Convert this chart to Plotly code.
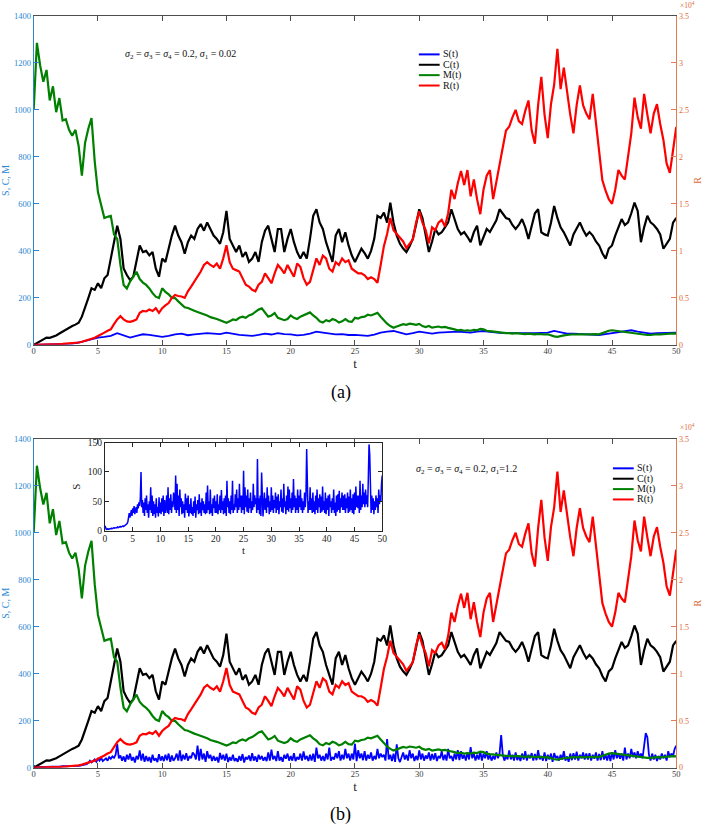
import plotly.graph_objects as go

# ---------------- data ----------------
# C, M, R sampled every 0.25 time units (t = 0 ... 50)
C_vals = [
    0, 8, 17, 25, 31, 30, 34, 40, 48, 56, 66, 74, 80, 86, 94, 120, 157, 199, 241, 234,
    262, 241, 283, 297, 367, 437, 507, 451, 325, 297, 276, 290, 353, 423, 395, 400, 381, 395, 325, 290,
    367, 353, 409, 465, 507, 465, 437, 388, 437, 465, 451, 493, 514, 486, 521, 493, 465, 451, 430, 479,
    570, 451, 423, 395, 423, 374, 395, 353, 367, 395, 353, 437, 486, 507, 451, 395, 493, 493, 395, 451,
    493, 437, 395, 367, 395, 367, 451, 549, 577, 521, 493, 437, 395, 353, 465, 493, 437, 479, 423, 381,
    353, 380, 409, 390, 367, 400, 451, 549, 540, 563, 520, 605, 520, 465, 430, 410, 395, 420, 451, 510,
    577, 540, 470, 395, 440, 493, 470, 479, 500, 521, 577, 530, 493, 470, 480, 460, 437, 480, 507, 423,
    460, 493, 480, 507, 530, 577, 560, 540, 535, 510, 493, 510, 535, 500, 451, 500, 560, 577, 479, 470,
    465, 520, 591, 540, 500, 479, 450, 423, 470, 493, 521, 490, 465, 480, 465, 440, 423, 390, 367, 410,
    423, 465, 500, 535, 510, 521, 560, 605, 570, 437, 500, 549, 521, 510, 493, 470, 409, 430, 451, 520,
    540]

M_vals = [
    1000, 1285, 1190, 1120, 1170, 1040, 1100, 990, 1050, 955, 960, 915, 890, 915, 845, 720, 860, 920, 965, 780,
    650, 590, 540, 545, 549, 470, 451, 340, 255, 240, 269, 290, 311, 280, 265, 255, 240, 220, 205, 199,
    241, 225, 215, 200, 199, 185, 171, 160, 157, 150, 145, 140, 136, 130, 125, 118, 115, 110, 105, 101,
    94, 100, 108, 105, 115, 120, 115, 125, 130, 140, 150, 155, 135, 120, 125, 135, 115, 110, 105, 110,
    125, 115, 110, 120, 125, 130, 138, 125, 115, 100, 95, 105, 100, 110, 105, 95, 100, 110, 100, 98,
    115, 112, 118, 120, 128, 125, 130, 136, 120, 105, 90, 80, 73, 78, 83, 88, 85, 90, 88, 85,
    89, 80, 76, 80, 73, 76, 78, 74, 76, 72, 70, 66, 62, 64, 60, 62, 60, 64, 62, 68,
    66, 60, 58, 56, 55, 54, 52, 50, 50, 48, 50, 48, 48, 46, 48, 46, 45, 47, 45, 44,
    45, 40, 36, 34, 38, 40, 42, 44, 45, 44, 46, 44, 45, 46, 44, 46, 45, 50, 56, 60,
    62, 60, 58, 56, 56, 54, 52, 50, 48, 45, 44, 42, 42, 44, 45, 44, 46, 48, 47, 49,
    48]

# R in units of 10^4
R_vals = [
    0, 0, 0.001, 0.002, 0.003, 0.004, 0.005, 0.006, 0.008, 0.010, 0.012, 0.014, 0.016, 0.02, 0.025, 0.033, 0.042, 0.05, 0.06, 0.075,
    0.095, 0.11, 0.13, 0.15, 0.165, 0.22, 0.27, 0.305, 0.27, 0.25, 0.245, 0.255, 0.27, 0.34, 0.36, 0.355, 0.375, 0.36, 0.39, 0.34,
    0.39, 0.42, 0.445, 0.5, 0.53, 0.52, 0.515, 0.5, 0.57, 0.62, 0.67, 0.725, 0.78, 0.85, 0.88, 0.85, 0.83, 0.865, 0.81, 0.92,
    1.06, 0.88, 0.81, 0.795, 0.78, 0.71, 0.64, 0.62, 0.585, 0.57, 0.64, 0.67, 0.76, 0.71, 0.655, 0.76, 0.85, 0.81, 0.76, 0.85,
    0.78, 0.725, 0.865, 0.83, 0.71, 0.64, 0.67, 0.81, 0.92, 0.85, 0.95, 0.92, 0.81, 0.78, 0.88, 0.85, 0.92, 0.88, 0.90, 0.81,
    0.78, 0.76, 0.76, 0.74, 0.70, 0.72, 0.70, 0.66, 0.85, 1.05, 1.18, 1.35, 1.22, 1.18, 1.15, 1.10, 1.03, 1.08, 1.12, 1.30,
    1.42, 1.30, 1.22, 1.08, 1.25, 1.22, 1.30, 1.33, 1.26, 1.40, 1.65, 1.55, 1.72, 1.85, 1.70, 1.86, 1.58, 1.76, 1.55, 1.39,
    1.65, 1.80, 1.86, 1.55, 1.72, 1.90, 2.10, 2.28, 2.32, 2.42, 2.50, 2.38, 2.35, 2.49, 2.60, 2.28, 2.14, 2.55, 2.85, 2.45,
    2.20, 2.56, 2.77, 3.15, 2.72, 2.95, 2.68, 2.45, 2.25, 2.55, 2.76, 2.55, 2.46, 2.40, 2.67, 2.35, 2.07, 1.75, 1.64, 1.55,
    1.50, 1.65, 1.86, 1.80, 1.76, 2.00, 2.25, 2.63, 2.42, 2.30, 2.67, 2.45, 2.25, 2.46, 2.56, 2.35, 2.18, 1.93, 1.83, 2.07,
    2.32]

# S for panel (a), sampled every 0.5 time units
S_a_vals = [
    0, 0.5, 1, 1.5, 2, 3, 5, 10, 17, 24,
    31, 34, 38, 50, 42, 31, 38, 45, 42, 38,
    34, 38, 45, 48, 41, 45, 48, 50, 48, 46,
    52, 46, 42, 40, 38, 42, 48, 44, 50, 46,
    45, 40, 42, 48, 56, 52, 48, 45, 46, 42,
    42, 40, 38, 44, 52, 56, 59, 52, 45, 50,
    56, 52, 48, 52, 54, 56, 56, 54, 52, 56,
    59, 55, 52, 50, 50, 49, 48, 50, 50, 52,
    52, 59, 52, 48, 48, 46, 45, 44, 42, 46,
    50, 54, 58, 62, 56, 52, 48, 50, 50, 51,
    52]

# S for panel (b), sampled every 0.125 time units
S_b_vals = [
    8, 3, 2, 2, 3, 2, 3, 3,
    3, 4, 3, 4, 4, 5, 4, 5,
    5, 5, 6, 5, 6, 6, 7, 6,
    7, 7, 8, 7, 8, 9, 10, 11,
    12, 15, 20, 30, 22, 28, 35, 25,
    38, 30, 42, 28, 35, 40, 30, 45,
    38, 48, 42, 55, 100, 40, 52, 30,
    48, 25, 55, 35, 60, 30, 45, 22,
    50, 35, 74, 30, 60, 25, 50, 28,
    45, 22, 55, 30, 40, 24, 57, 30,
    48, 28, 55, 32, 60, 25, 52, 30,
    40, 60, 30, 74, 28, 55, 35, 62,
    30, 50, 40, 65, 55, 35, 94, 30,
    80, 35, 60, 25, 70, 40, 55, 28,
    50, 30, 45, 22, 63, 35, 55, 30,
    60, 24, 45, 30, 55, 28, 40, 25,
    50, 30, 58, 22, 45, 35, 52, 28,
    62, 30, 48, 25, 55, 35, 50, 30,
    45, 28, 65, 30, 77, 35, 50, 28,
    70, 30, 45, 25, 55, 38, 60, 30,
    50, 30, 62, 28, 45, 35, 60, 30,
    69, 35, 50, 28, 55, 30, 60, 25,
    85, 40, 55, 30, 50, 28, 60, 35,
    85, 30, 45, 35, 62, 40, 70, 30,
    55, 35, 80, 40, 60, 30, 60, 35,
    102, 28, 74, 40, 60, 32, 70, 30,
    55, 38, 65, 30, 50, 35, 80, 40,
    60, 45, 55, 30, 122, 35, 55, 28,
    60, 25, 99, 40, 24, 45, 65, 35,
    55, 30, 74, 40, 60, 28, 50, 32,
    74, 35, 60, 30, 52, 38, 65, 30,
    58, 35, 62, 28, 50, 40, 70, 32,
    55, 30, 80, 40, 50, 28, 60, 35,
    75, 32, 70, 38, 55, 30, 65, 35,
    88, 40, 60, 30, 55, 35, 70, 30,
    60, 40, 70, 35, 55, 30, 50, 35,
    65, 40, 60, 139, 55, 30, 50, 35,
    74, 35, 55, 30, 65, 32, 50, 28,
    60, 35, 70, 30, 55, 40, 62, 30,
    58, 32, 75, 35, 50, 30, 65, 28,
    55, 35, 60, 25, 62, 40, 50, 30,
    55, 35, 70, 30, 48, 25, 60, 32,
    62, 35, 68, 30, 55, 40, 65, 35,
    60, 35, 62, 30, 55, 38, 65, 30,
    58, 32, 70, 35, 55, 30, 62, 28,
    65, 35, 75, 40, 60, 38, 60, 30,
    85, 35, 60, 40, 80, 45, 65, 40,
    70, 45, 60, 40, 90, 147, 130, 55,
    30, 60, 35, 55, 28, 50, 35, 60,
    40, 55, 30, 70, 45, 60, 50, 80,
    94]

t_q = [i * 0.25 for i in range(len(C_vals))]
t_h = [i * 0.5 for i in range(len(S_a_vals))]
t_e = [i * 0.125 for i in range(len(S_b_vals))]

x_ticks = list(range(0, 51, 5))
left_ticks = list(range(0, 1401, 200))
right_ticks = [0, 0.5, 1, 1.5, 2, 2.5, 3, 3.5]
inset_ticks = [0, 50, 100, 150]

series_names = ["S(t)", "C(t)", "M(t)", "R(t)"]
series_colors = ["#0000FF", "#000000", "#008000", "#FF0000"]

# ---------------- styling ----------------
W, H = 708, 829
FONT = "Liberation Serif"
BLUE_AX = "#2A86D1"
ORANGE_AX = "#E07B53"
ORANGE_TXT = "#DD6A3A"
GRAY_AX = "#4D4D4D"

def px_x(p):
    return p / W

def px_y(p):
    return 1 - p / H

xdom = [px_x(32), px_x(681)]
ydom_a = [px_y(344), px_y(11)]
ydom_b = [px_y(772), px_y(439)]
xdom_in = [px_x(104), px_x(384)]
ydom_in = [px_y(532), px_y(443)]

fig = go.Figure()

def add_panel(S_t, S_v, xa, ya, yr, swidth):
    fig.add_trace(go.Scatter(x=S_t, y=S_v, name="S(t)", mode="lines",
                             line=dict(color=series_colors[0], width=swidth),
                             xaxis=xa, yaxis=ya, showlegend=False))
    fig.add_trace(go.Scatter(x=t_q, y=C_vals, name="C(t)", mode="lines",
                             line=dict(color=series_colors[1], width=2.2),
                             xaxis=xa, yaxis=ya, showlegend=False))
    fig.add_trace(go.Scatter(x=t_q, y=M_vals, name="M(t)", mode="lines",
                             line=dict(color=series_colors[2], width=2.2),
                             xaxis=xa, yaxis=ya, showlegend=False))
    fig.add_trace(go.Scatter(x=t_q, y=R_vals, name="R(t)", mode="lines",
                             line=dict(color=series_colors[3], width=2.2),
                             xaxis=xa, yaxis=yr, showlegend=False))

add_panel(t_h, S_a_vals, "x", "y", "y2", 1.8)
add_panel(t_e, S_b_vals, "x2", "y3", "y4", 1.8)

# inset
fig.add_trace(go.Scatter(x=t_e, y=S_b_vals, name="S(t)", mode="lines",
                         line=dict(color="#0000FF", width=1.5),
                         xaxis="x3", yaxis="y5", showlegend=False))

def xaxis_style(dom, anchor):
    return dict(domain=dom, anchor=anchor, range=[0, 50], tickvals=x_ticks,
                ticks="inside", ticklen=5, tickcolor=GRAY_AX, showline=True,
                linecolor=GRAY_AX, linewidth=1, mirror="ticks", showgrid=False,
                zeroline=False, ticklabelstandoff=-2,
                tickfont=dict(family=FONT, size=8.5, color="#404040"),
                title=dict(text="t", font=dict(family=FONT, size=13, color="#262626"),
                           standoff=0))

def yleft_style(dom, anchor):
    return dict(domain=dom, anchor=anchor, range=[0, 1400], tickvals=left_ticks,
                ticks="inside", ticklen=5, tickcolor=BLUE_AX, showline=True,
                linecolor=BLUE_AX, linewidth=1.2, showgrid=False, zeroline=False,
                tickfont=dict(family=FONT, size=8.5, color=BLUE_AX),
                title=dict(text="S, C, M", font=dict(family=FONT, size=10, color=BLUE_AX),
                           standoff=6))

def yright_style(over, anchor):
    return dict(overlaying=over, anchor=anchor, side="right", range=[0, 3.5],
                tickvals=right_ticks, ticks="inside", ticklen=5, tickcolor=ORANGE_AX,
                showline=True, linecolor=ORANGE_AX, linewidth=1.2, showgrid=False,
                zeroline=False, tickfont=dict(family=FONT, size=8, color=ORANGE_TXT),
                title=dict(text="R", font=dict(family=FONT, size=10, color=ORANGE_TXT),
                           standoff=6))

layout = dict(
    width=W, height=H, margin=dict(l=0, r=0, t=0, b=0),
    paper_bgcolor="white", plot_bgcolor="white", showlegend=False,
    font=dict(family=FONT),
    xaxis=xaxis_style(xdom, "y"),
    yaxis=yleft_style(ydom_a, "x"),
    yaxis2=yright_style("y", "x"),
    xaxis2=xaxis_style(xdom, "y3"),
    yaxis3=yleft_style(ydom_b, "x2"),
    yaxis4=yright_style("y3", "x2"),
    xaxis3=dict(domain=xdom_in, anchor="y5", range=[0, 50], tickvals=x_ticks,
                ticks="inside", ticklen=4, tickcolor="#262626", showline=True,
                linecolor="#262626", linewidth=1, mirror="ticks", showgrid=False,
                zeroline=False, ticklabelstandoff=-1,
                tickfont=dict(family=FONT, size=9.5, color="#262626"),
                title=dict(text="t", font=dict(family=FONT, size=11, color="#262626"),
                           standoff=2)),
    yaxis5=dict(domain=ydom_in, anchor="x3", range=[0, 150], tickvals=inset_ticks,
                ticks="inside", ticklen=4, tickcolor="#262626", showline=True,
                linecolor="#262626", linewidth=1, mirror="ticks", showgrid=False,
                zeroline=False, tickfont=dict(family=FONT, size=9.5, color="#262626"),
                title=dict(text="S", font=dict(family=FONT, size=11, color="#262626"),
                           standoff=4)),
)
fig.update_layout(**layout)

annotations = []
shapes = []

def legend_block(x0, x1, xt, ys):
    for name, col, yy in zip(series_names, series_colors, ys):
        shapes.append(dict(type="line", xref="paper", yref="paper",
                           x0=px_x(x0), x1=px_x(x1), y0=px_y(yy), y1=px_y(yy),
                           line=dict(color=col, width=2)))
        annotations.append(dict(xref="paper", yref="paper", x=px_x(xt), y=px_y(yy),
                                text=name, showarrow=False, xanchor="left",
                                yanchor="middle",
                                font=dict(family=FONT, size=10, color="#111111")))

legend_block(421, 442, 443, [50, 60.5, 71, 81.5])
legend_block(617, 638, 639, [469, 479.5, 490, 500.5])

sig = "<i>σ</i>"
txt_a = f"{sig}<sub>2</sub> = {sig}<sub>3</sub> = {sig}<sub>4</sub> = 0.2, {sig}<sub>1</sub> = 0.02"
txt_b = f"{sig}<sub>2</sub> = {sig}<sub>3</sub> = {sig}<sub>4</sub> = 0.2, {sig}<sub>1</sub>=1.2"
annotations.append(dict(xref="paper", yref="paper", x=px_x(122), y=px_y(50),
                        text=txt_a, showarrow=False, xanchor="left", yanchor="middle",
                        font=dict(family=FONT, size=10, color="#111111")))
annotations.append(dict(xref="paper", yref="paper", x=px_x(416), y=px_y(470),
                        text=txt_b, showarrow=False, xanchor="left", yanchor="middle",
                        font=dict(family=FONT, size=10, color="#111111")))

for yy in (6, 433):
    annotations.append(dict(xref="paper", yref="paper", x=px_x(684), y=px_y(yy),
                            text="×10<sup>4</sup>", showarrow=False, xanchor="left",
                            yanchor="bottom", borderpad=0,
                            font=dict(family=FONT, size=7.5, color=ORANGE_TXT)))

annotations.append(dict(xref="paper", yref="paper", x=px_x(342), y=px_y(392),
                        text="(a)", showarrow=False, xanchor="center", yanchor="middle",
                        font=dict(family=FONT, size=18, color="#000000")))
annotations.append(dict(xref="paper", yref="paper", x=px_x(342), y=px_y(819),
                        text="(b)", showarrow=False, xanchor="center", yanchor="middle",
                        font=dict(family=FONT, size=18, color="#000000")))

fig.update_layout(annotations=annotations, shapes=shapes)

fig.write_html("out.html")
